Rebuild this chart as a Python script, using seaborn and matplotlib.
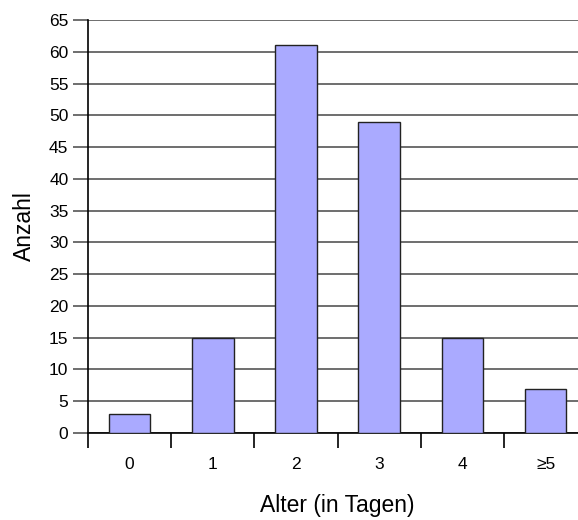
import numpy as np
import pandas as pd
import matplotlib
matplotlib.use("Agg")
import matplotlib.pyplot as plt
import seaborn as sns

# Data
alter = ["0", "1", "2", "3", "4", "≥5"]
anzahl = [3, 15, 61, 49, 15, 7]

df = pd.DataFrame({"Alter": alter, "Anzahl": anzahl})

sns.set_style("white")
plt.rcParams['font.family'] = ['Liberation Sans', 'DejaVu Sans']
plt.rcParams['text.color'] = 'black'
plt.rcParams['axes.labelcolor'] = 'black'
plt.rcParams['xtick.labelcolor'] = 'black'
plt.rcParams['ytick.labelcolor'] = 'black'

fig = plt.figure(figsize=(5.78, 5.2), dpi=100)
ax = fig.add_axes([0.152, 0.1673, 0.864, 0.7942])

sns.barplot(data=df, x="Alter", y="Anzahl", color="#aaaaff", saturation=1,
            width=0.5, edgecolor="#222222", linewidth=1.0, ax=ax, zorder=3)

ax.set_ylim(0, 65)
ax.set_xlim(-0.5, 5.5)
ax.set_yticks(np.arange(0, 66, 5))
ax.yaxis.grid(True, color="#555555", linewidth=1.2, zorder=0)
ax.set_axisbelow(True)

for s in ["top", "right"]:
    ax.spines[s].set_visible(False)
for s in ["left", "bottom"]:
    ax.spines[s].set_color("black")
    ax.spines[s].set_linewidth(1.2)

# tick marks between categories
ax.set_xticks(np.arange(-0.5, 5.5, 1), minor=True)
ax.tick_params(axis="x", which="major", bottom=True, length=0, pad=17,
               labelsize=12.5, labelcolor="black")
ax.tick_params(axis="x", which="minor", bottom=True, length=11, width=1.2,
               color="black", direction="out")
ax.tick_params(axis="y", left=True, length=11, width=1.2, color="#555555",
               direction="out", labelsize=12.5, pad=3, labelcolor="black")

ax.set_xlabel("Alter (in Tagen)", fontsize=16.5, labelpad=16, color="black")
ax.set_ylabel("Anzahl", fontsize=16.5, labelpad=9, color="black")

fig.savefig("out.png", dpi=100)
